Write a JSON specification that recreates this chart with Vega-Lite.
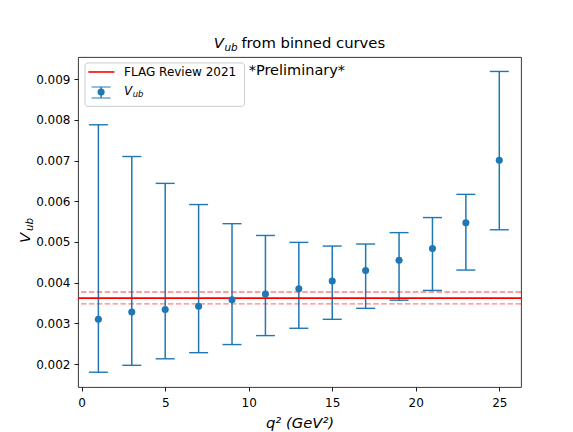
{
  "$schema": "https://vega.github.io/schema/vega-lite/v6.json",
  "width": 443,
  "height": 330,
  "autosize": {"type": "none"},
  "padding": {"left": 78, "top": 57, "right": 52, "bottom": 45},
  "background": "white",
  "config": {
    "view": {"stroke": "#222222", "strokeWidth": 0.9},
    "font": "DejaVu Sans",
    "axis": {
      "labelFont": "DejaVu Sans", "labelFontSize": 12, "labelColor": "#000000",
      "tickColor": "#000000", "tickSize": 4, "tickWidth": 0.9,
      "domain": false, "grid": false,
      "titleFont": "DejaVu Sans", "titleFontSize": 14.8, "titleColor": "#000000", "titleFontWeight": "normal"
    }
  },
  "datasets": {
    "points": [
      {"q2": 1, "vub": 0.0031, "lo": 0.0018, "hi": 0.00788},
      {"q2": 3, "vub": 0.00328, "lo": 0.00197, "hi": 0.0071},
      {"q2": 5, "vub": 0.00334, "lo": 0.00213, "hi": 0.00644},
      {"q2": 7, "vub": 0.00342, "lo": 0.00228, "hi": 0.00592},
      {"q2": 9, "vub": 0.00358, "lo": 0.00248, "hi": 0.00545},
      {"q2": 11, "vub": 0.00372, "lo": 0.0027, "hi": 0.00516},
      {"q2": 13, "vub": 0.00385, "lo": 0.00288, "hi": 0.00499},
      {"q2": 15, "vub": 0.00404, "lo": 0.0031, "hi": 0.0049},
      {"q2": 17, "vub": 0.0043, "lo": 0.00337, "hi": 0.00495},
      {"q2": 19, "vub": 0.00455, "lo": 0.00357, "hi": 0.00523},
      {"q2": 21, "vub": 0.00484, "lo": 0.00381, "hi": 0.0056},
      {"q2": 23, "vub": 0.00547, "lo": 0.00431, "hi": 0.00617},
      {"q2": 25, "vub": 0.00701, "lo": 0.0053, "hi": 0.00919}
    ],
    "flag": [{"vub": 0.00362}],
    "flagband": [{"vub": 0.00377}, {"vub": 0.00348}]
  },
  "layer": [
    {
      "data": {"name": "points"},
      "mark": {"type": "rule", "color": "#1f77b4", "strokeWidth": 1.5},
      "encoding": {
        "x": {"field": "q2", "type": "quantitative",
              "scale": {"domain": [-0.22, 26.3], "nice": false, "zero": false},
              "axis": {"values": [0, 5, 10, 15, 20, 25], "format": "d", "labelPadding": 6,
                       "title": "q² (GeV²)", "titleFontStyle": "italic", "titleY": 40, "titleBaseline": "alphabetic"}},
        "y": {"field": "lo", "type": "quantitative",
              "scale": {"domain": [0.001437, 0.009545], "nice": false, "zero": false},
              "axis": {"values": [0.002, 0.003, 0.004, 0.005, 0.006, 0.007, 0.008, 0.009], "format": ".3f", "labelPadding": 4, "title": null}},
        "y2": {"field": "hi"}
      }
    },
    {
      "data": {"name": "points"},
      "mark": {"type": "tick", "orient": "horizontal", "color": "#1f77b4", "size": 19, "thickness": 1.4, "opacity": 1},
      "encoding": {
        "x": {"field": "q2", "type": "quantitative", "title": "q² (GeV²)"},
        "y": {"field": "lo", "type": "quantitative", "title": null}
      }
    },
    {
      "data": {"name": "points"},
      "mark": {"type": "tick", "orient": "horizontal", "color": "#1f77b4", "size": 19, "thickness": 1.4, "opacity": 1},
      "encoding": {
        "x": {"field": "q2", "type": "quantitative", "title": "q² (GeV²)"},
        "y": {"field": "hi", "type": "quantitative", "title": null}
      }
    },
    {
      "data": {"name": "flag"},
      "mark": {"type": "rule", "color": "#ff0000", "strokeWidth": 1.6},
      "encoding": {"y": {"field": "vub", "type": "quantitative", "title": null}}
    },
    {
      "data": {"name": "flagband"},
      "mark": {"type": "rule", "color": "#ff0000", "strokeWidth": 1.4, "opacity": 0.5, "strokeDash": [5.5, 2.4]},
      "encoding": {"y": {"field": "vub", "type": "quantitative", "title": null}}
    },
    {
      "data": {"name": "points"},
      "mark": {"type": "circle", "color": "#1f77b4", "size": 50, "opacity": 1},
      "encoding": {
        "x": {"field": "q2", "type": "quantitative", "title": "q² (GeV²)"},
        "y": {"field": "vub", "type": "quantitative", "title": null}
      }
    },
    {
      "data": {"values": [{}]},
      "mark": {"type": "text", "text": "V", "font": "DejaVu Sans", "fontSize": 14.8, "fontStyle": "italic", "align": "left", "baseline": "alphabetic", "color": "#000000"},
      "encoding": {"x": {"datum": 7.91, "type": "quantitative", "title": "q² (GeV²)"}, "y": {"datum": 0.009767, "type": "quantitative", "title": null}}
    },
    {
      "data": {"values": [{}]},
      "mark": {"type": "text", "text": "ub", "font": "DejaVu Sans", "fontSize": 10.4, "fontStyle": "italic", "align": "left", "baseline": "alphabetic", "dx": 10.6, "dy": 2.6, "color": "#000000"},
      "encoding": {"x": {"datum": 7.91, "type": "quantitative", "title": "q² (GeV²)"}, "y": {"datum": 0.009767, "type": "quantitative", "title": null}}
    },
    {
      "data": {"values": [{}]},
      "mark": {"type": "text", "text": "from binned curves", "font": "DejaVu Sans", "fontSize": 14.8, "align": "left", "baseline": "alphabetic", "dx": 27.6, "color": "#000000"},
      "encoding": {"x": {"datum": 7.91, "type": "quantitative", "title": "q² (GeV²)"}, "y": {"datum": 0.009767, "type": "quantitative", "title": null}}
    },
    {
      "data": {"values": [{}]},
      "mark": {"type": "text", "text": "*Preliminary*", "font": "DejaVu Sans", "fontSize": 14.5, "align": "left", "baseline": "alphabetic", "color": "#000000"},
      "encoding": {"x": {"datum": 10, "type": "quantitative", "title": "q² (GeV²)"}, "y": {"datum": 0.0091, "type": "quantitative", "title": null}}
    },
    {
      "data": {"values": [{}]},
      "mark": {"type": "rect", "fill": "#ffffff", "fillOpacity": 0.8, "stroke": "#cccccc", "strokeWidth": 1, "cornerRadius": 3},
      "encoding": {
        "x": {"datum": 0.2, "type": "quantitative", "title": "q² (GeV²)"}, "x2": {"datum": 9.75},
        "y": {"datum": 0.009398, "type": "quantitative", "title": null}, "y2": {"datum": 0.008332}
      }
    },
    {
      "data": {"values": [{}]},
      "mark": {"type": "rule", "color": "#ff0000", "strokeWidth": 1.6},
      "encoding": {
        "x": {"datum": 0.4, "type": "quantitative", "title": "q² (GeV²)"}, "x2": {"datum": 1.96},
        "y": {"datum": 0.009177, "type": "quantitative", "title": null}
      }
    },
    {
      "data": {"values": [{}]},
      "mark": {"type": "text", "text": "FLAG Review 2021", "font": "DejaVu Sans", "fontSize": 12, "align": "left", "baseline": "alphabetic", "color": "#000000"},
      "encoding": {"x": {"datum": 2.54, "type": "quantitative", "title": "q² (GeV²)"}, "y": {"datum": 0.009069, "type": "quantitative", "title": null}}
    },
    {
      "data": {"values": [{}]},
      "mark": {"type": "rule", "color": "#1f77b4", "strokeWidth": 1.5},
      "encoding": {
        "x": {"datum": 1.163, "type": "quantitative", "title": "q² (GeV²)"},
        "y": {"datum": 0.008538, "type": "quantitative", "title": null}, "y2": {"datum": 0.008808}
      }
    },
    {
      "data": {"values": [{}]},
      "mark": {"type": "tick", "orient": "horizontal", "color": "#1f77b4", "size": 19, "thickness": 1.4},
      "encoding": {"x": {"datum": 1.163, "type": "quantitative", "title": "q² (GeV²)"}, "y": {"datum": 0.008538, "type": "quantitative", "title": null}}
    },
    {
      "data": {"values": [{}]},
      "mark": {"type": "tick", "orient": "horizontal", "color": "#1f77b4", "size": 19, "thickness": 1.4},
      "encoding": {"x": {"datum": 1.163, "type": "quantitative", "title": "q² (GeV²)"}, "y": {"datum": 0.008808, "type": "quantitative", "title": null}}
    },
    {
      "data": {"values": [{}]},
      "mark": {"type": "circle", "color": "#1f77b4", "size": 50, "opacity": 1},
      "encoding": {"x": {"datum": 1.163, "type": "quantitative", "title": "q² (GeV²)"}, "y": {"datum": 0.008686, "type": "quantitative", "title": null}}
    },
    {
      "data": {"values": [{}]},
      "mark": {"type": "text", "text": "V", "font": "DejaVu Sans", "fontSize": 12, "fontStyle": "italic", "align": "left", "baseline": "alphabetic", "color": "#000000"},
      "encoding": {"x": {"datum": 2.54, "type": "quantitative", "title": "q² (GeV²)"}, "y": {"datum": 0.008602, "type": "quantitative", "title": null}}
    },
    {
      "data": {"values": [{}]},
      "mark": {"type": "text", "text": "ub", "font": "DejaVu Sans", "fontSize": 8.4, "fontStyle": "italic", "align": "left", "baseline": "alphabetic", "dx": 8.6, "dy": 2.1, "color": "#000000"},
      "encoding": {"x": {"datum": 2.54, "type": "quantitative", "title": "q² (GeV²)"}, "y": {"datum": 0.008602, "type": "quantitative", "title": null}}
    },
    {
      "data": {"values": [{}]},
      "mark": {"type": "text", "text": "V", "font": "DejaVu Sans", "fontSize": 14.8, "fontStyle": "italic", "align": "left", "baseline": "alphabetic", "angle": 270, "color": "#000000"},
      "encoding": {"x": {"datum": -3.075, "type": "quantitative", "title": "q² (GeV²)"}, "y": {"datum": 0.004975, "type": "quantitative", "title": null}}
    },
    {
      "data": {"values": [{}]},
      "mark": {"type": "text", "text": "ub", "font": "DejaVu Sans", "fontSize": 10.4, "fontStyle": "italic", "align": "left", "baseline": "alphabetic", "angle": 270, "dx": 12, "dy": 2.6, "color": "#000000"},
      "encoding": {"x": {"datum": -3.075, "type": "quantitative", "title": "q² (GeV²)"}, "y": {"datum": 0.004975, "type": "quantitative", "title": null}}
    }
  ]
}
